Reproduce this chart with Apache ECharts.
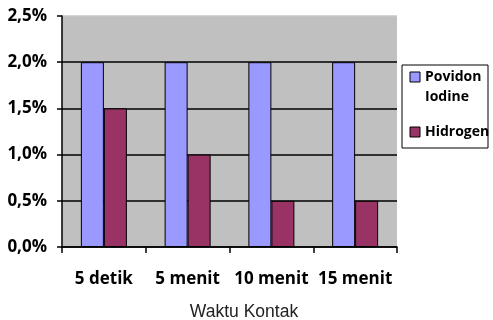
<!DOCTYPE html>
<html>
<head>
<meta charset="utf-8">
<script src="https://cdn.jsdelivr.net/npm/echarts@6/dist/echarts.min.js"></script>
<style>
  html, body { margin: 0; padding: 0; background: #fff; }
  #chart { width: 493px; height: 320px; }
</style>
</head>
<body>
<div id="chart"></div>
<script>
// Contact time categories
const categories = ['5 detik', '5 menit', '10 menit', '15 menit'];
// Values in percent
const povidonIodine = [2.0, 2.0, 2.0, 2.0];
const hidrogen = [1.5, 1.0, 0.5, 0.5];
// Legend labels (lines of each entry)
const legendLabels = [['Povidon', 'Iodine'], ['Hidrogen']];
const seriesColors = ['#9999ff', '#993366'];

const yMin = 0, yMax = 2.5, yStep = 0.5;

const chart = echarts.init(document.getElementById('chart'), null, { renderer: 'canvas' });

const boldFont = 'Open Sans';

// Legend box drawn as graphic elements
const legendLeft = 402, legendTop = 65;
const legendChildren = [{
  type: 'rect',
  shape: { x: legendLeft, y: legendTop, width: 86, height: 83 },
  style: { fill: '#fff', stroke: '#000', lineWidth: 1 }
}];
const entryY = [77, 132];
legendLabels.forEach((lines, i) => {
  legendChildren.push({
    type: 'rect',
    shape: { x: legendLeft + 8, y: entryY[i] - 5, width: 10, height: 10 },
    style: { fill: seriesColors[i], stroke: '#000', lineWidth: 1 }
  });
  lines.forEach((t, j) => {
    legendChildren.push({
      type: 'text',
      x: legendLeft + 23,
      y: entryY[i] + j * 20,
      style: {
        text: t, fill: '#000', font: 'bold 14px "' + boldFont + '"',
        verticalAlign: 'middle', align: 'left'
      }
    });
  });
});

const option = {
  animation: false,
  grid: {
    left: 62, right: 96, top: 16, bottom: 73,
    show: true, backgroundColor: '#c0c0c0', borderWidth: 0
  },
  xAxis: {
    type: 'category',
    data: categories,
    axisLine: { show: true, lineStyle: { color: '#000', width: 1.5 } },
    axisTick: { show: true, alignWithLabel: false, length: 6, lineStyle: { color: '#000', width: 1.5 } },
    axisLabel: {
      interval: 0, hideOverlap: false,
      margin: 24, color: '#000', fontFamily: boldFont, fontWeight: 'bold', fontSize: 17
    },
    splitLine: { show: false }
  },
  yAxis: {
    type: 'value',
    min: yMin, max: yMax, interval: yStep,
    axisLine: { show: true, lineStyle: { color: '#000', width: 1.5 } },
    axisTick: { show: true, inside: false, length: 5, lineStyle: { color: '#000', width: 1.5 } },
    axisLabel: {
      margin: 15, color: '#000', fontFamily: boldFont, fontWeight: 'bold', fontSize: 17,
      formatter: v => v.toFixed(1).replace('.', ',') + '%'
    },
    splitLine: {
      show: true,
      lineStyle: { color: ['#000', '#000', '#000', '#000', '#000', '#c8c8c8'], width: 1.5 }
    }
  },
  series: [
    {
      name: 'Povidon Iodine', type: 'bar', data: povidonIodine,
      barWidth: 23, barGap: '0%',
      itemStyle: { color: seriesColors[0], borderColor: '#000', borderWidth: 1 }
    },
    {
      name: 'Hidrogen', type: 'bar', data: hidrogen,
      barWidth: 23, barGap: '0%',
      itemStyle: { color: seriesColors[1], borderColor: '#000', borderWidth: 1 }
    }
  ],
  graphic: [
    {
      type: 'text', x: 244, y: 312,
      style: {
        text: 'Waktu Kontak', fill: '#222', font: '17.5px "Liberation Sans"',
        align: 'center', verticalAlign: 'middle'
      }
    },
    { type: 'group', children: legendChildren }
  ]
};

chart.setOption(option);
</script>
</body>
</html>
